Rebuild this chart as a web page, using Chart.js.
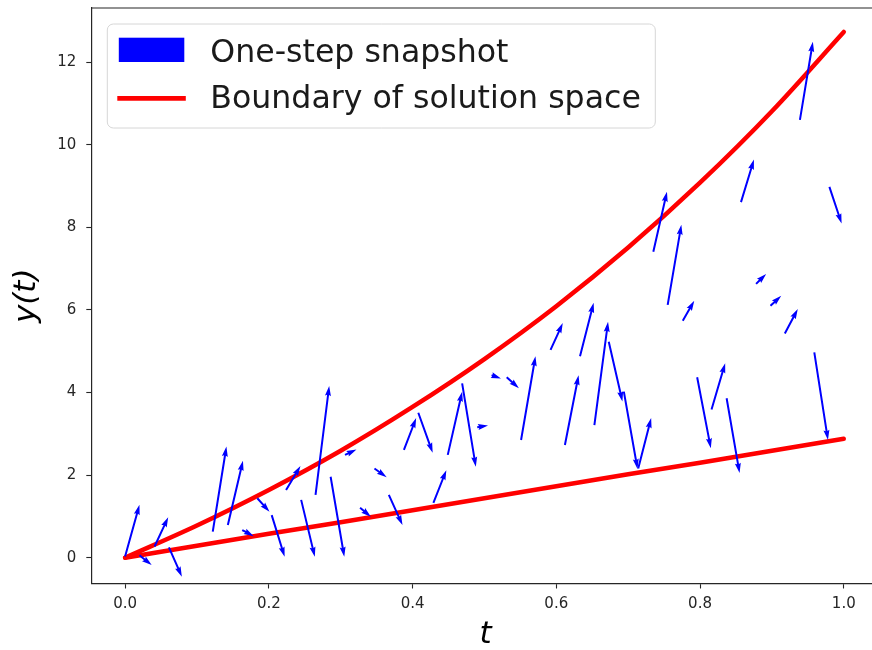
<!DOCTYPE html>
<html>
<head>
<meta charset="utf-8">
<title>One-step snapshots</title>
<script src="https://cdn.jsdelivr.net/npm/chart.js@4.4.1/dist/chart.umd.min.js"></script>
<style>
  html, body { margin: 0; padding: 0; background: #fff; overflow: hidden; }
  #wrap { width: 900px; height: 650px; }
</style>
</head>
<body>
<div id="wrap"><canvas id="quiver" width="900" height="650"></canvas></div>
<script>
// boundary curves of the solution space
const curveT = [0, 0.1, 0.2, 0.3, 0.4, 0.5, 0.6, 0.7, 0.8, 0.9, 1.0];
const upperY = [0, 0.78, 1.64, 2.59, 3.65, 4.81, 6.09, 7.51, 9.08, 10.81, 12.73];
const lowerY = [0, 0.29, 0.58, 0.86, 1.15, 1.44, 1.73, 2.02, 2.30, 2.59, 2.88];

// one-step snapshots: arrow from (tailT, tailY) to (headT, headY)
const tailT = [0.000, 0.020, 0.041, 0.061, 0.122, 0.143, 0.163, 0.184, 0.204, 0.224, 0.245,
  0.265, 0.286, 0.306, 0.327, 0.347, 0.367, 0.388, 0.408, 0.429, 0.449, 0.469, 0.490, 0.510,
  0.531, 0.551, 0.592, 0.612, 0.633, 0.653, 0.673, 0.694, 0.714, 0.735, 0.755, 0.776, 0.796,
  0.816, 0.837, 0.857, 0.878, 0.898, 0.918, 0.939, 0.959, 0.980];
const tailY = [0.03, 0.06, 0.27, 0.25, 0.63, 0.79, 0.67, 1.44, 1.03, 1.64, 1.40,
  1.52, 1.96, 2.49, 1.21, 2.16, 1.52, 2.61, 3.51, 1.33, 2.49, 4.22, 3.16, 4.42,
  4.37, 2.85, 5.03, 2.73, 4.88, 3.21, 5.23, 4.02, 2.16, 7.41, 6.12, 5.74, 4.37,
  3.59, 3.86, 8.61, 6.63, 6.10, 5.43, 10.60, 4.97, 8.98];
const headT = [0.020, 0.037, 0.060, 0.079, 0.141, 0.164, 0.179, 0.201, 0.222, 0.244, 0.264,
  0.284, 0.305, 0.322, 0.342, 0.364, 0.386, 0.405, 0.428, 0.447, 0.469, 0.488, 0.505, 0.523,
  0.548, 0.571, 0.609, 0.631, 0.652, 0.672, 0.692, 0.713, 0.732, 0.754, 0.774, 0.792, 0.815,
  0.835, 0.855, 0.875, 0.892, 0.913, 0.936, 0.957, 0.978, 0.997];
const headY = [1.28, -0.18, 0.98, -0.46, 2.69, 2.35, 0.52, 1.11, 0.02, 2.22, 0.02,
  4.16, 0.02, 2.62, 0.99, 1.95, 0.79, 3.38, 2.54, 2.12, 4.02, 2.20, 3.20, 4.34,
  4.10, 4.88, 5.68, 4.42, 6.17, 5.71, 3.78, 2.15, 3.38, 8.86, 8.06, 6.22, 2.65,
  4.71, 2.05, 9.64, 6.87, 6.34, 6.02, 12.49, 2.85, 8.09];

const xTicks = [0, 0.2, 0.4, 0.6, 0.8, 1.0];
const yTicks = [0, 2, 4, 6, 8, 10, 12];
const legendLabels = ["One-step snapshot", "Boundary of solution space"];

const FONT = "'DejaVu Sans', 'Liberation Sans', sans-serif";
const INK = "#262626";
const SHAFT = 2; // quiver shaft width, px

function curve(ys) {
  return curveT.map((t, i) => ({ x: t, y: ys[i] }));
}

const datasets = [
  { label: legendLabels[1], data: curve(upperY) },
  { label: legendLabels[1], data: curve(lowerY) }
].map(d => Object.assign(d, {
  showLine: true,
  borderColor: "#ff0000",
  borderWidth: 4.5,
  borderCapStyle: "round",
  borderJoinStyle: "round",
  pointRadius: 0,
  cubicInterpolationMode: "monotone",
  fill: false
}));

tailT.forEach((t, i) => {
  datasets.push({
    label: legendLabels[0],
    quiver: true,
    data: [{ x: t, y: tailY[i] }, { x: headT[i], y: headY[i] }],
    showLine: false,
    pointRadius: 0,
    pointHoverRadius: 0
  });
});

// matplotlib-like quiver arrow polygon
function drawArrow(ctx, x0, y0, x1, y1, w) {
  const len = Math.hypot(x1 - x0, y1 - y0);
  if (len < 0.5) return;
  const hl = 5 * w, hal = 4.5 * w, hw = 1.5 * w, sw = 0.5 * w;
  let pts;
  if (len >= hl) {
    pts = [[0, -sw], [len - hal, -sw], [len - hl, -hw], [len, 0],
           [len - hl, hw], [len - hal, sw], [0, sw]];
  } else {
    const k = len / hl;
    pts = [[0, -sw * k], [(hl - hal) * k, -sw * k], [0, -hw * k], [len, 0],
           [0, hw * k], [(hl - hal) * k, sw * k], [0, sw * k]];
  }
  const a = Math.atan2(y1 - y0, x1 - x0);
  const c = Math.cos(a), s = Math.sin(a);
  ctx.beginPath();
  pts.forEach(([px, py], j) => {
    const X = x0 + px * c - py * s;
    const Y = y0 + px * s + py * c;
    if (j === 0) ctx.moveTo(X, Y); else ctx.lineTo(X, Y);
  });
  ctx.closePath();
  ctx.fill();
}

const quiverPlugin = {
  id: "quiver",
  afterDatasetsDraw(chart) {
    const { ctx, chartArea: ca } = chart;
    ctx.save();
    ctx.beginPath();
    ctx.rect(ca.left, ca.top, ca.right - ca.left, ca.bottom - ca.top);
    ctx.clip();
    ctx.fillStyle = "#0000ff";
    chart.data.datasets.forEach((ds, i) => {
      if (!ds.quiver) return;
      const pts = chart.getDatasetMeta(i).data;
      drawArrow(ctx, pts[0].x, pts[0].y, pts[1].x, pts[1].y, SHAFT);
    });
    ctx.restore();
  }
};

// top spine plus the framed legend
const framePlugin = {
  id: "frame",
  afterDraw(chart) {
    const { ctx, chartArea: ca } = chart;
    ctx.save();
    ctx.strokeStyle = INK;
    ctx.lineWidth = 1.2;
    ctx.beginPath();
    ctx.moveTo(ca.left, ca.top);
    ctx.lineTo(ca.right, ca.top);
    ctx.stroke();

    const bx = ca.left + 16, by = ca.top + 16, bw = 548, bh = 104;
    ctx.beginPath();
    ctx.roundRect(bx, by, bw, bh, 6);
    ctx.fillStyle = "rgba(255,255,255,0.8)";
    ctx.fill();
    ctx.strokeStyle = "#d6d6d6";
    ctx.lineWidth = 1;
    ctx.stroke();

    ctx.fillStyle = "#0000ff";
    ctx.fillRect(bx + 11.5, by + 13.7, 65.5, 24.3);
    ctx.strokeStyle = "#ff0000";
    ctx.lineWidth = 4.7;
    ctx.beginPath();
    ctx.moveTo(bx + 10, by + 74.3);
    ctx.lineTo(bx + 78.5, by + 74.3);
    ctx.stroke();

    ctx.fillStyle = "#1a1a1a";
    ctx.font = "31.6px " + FONT;
    ctx.textBaseline = "alphabetic";
    ctx.fillText(legendLabels[0], bx + 103, by + 37.7);
    ctx.fillText(legendLabels[1], bx + 103, by + 84.3);
    ctx.restore();
  }
};

// fixed axis boxes, no extra room reserved for end labels
function fixBox(size) {
  return s => {
    if (s.isHorizontal()) s.height = size; else s.width = size;
    s.paddingTop = s.paddingBottom = s.paddingLeft = s.paddingRight = 0;
  };
}

new Chart(document.getElementById("quiver"), {
  type: "scatter",
  data: { datasets },
  plugins: [quiverPlugin, framePlugin],
  options: {
    responsive: false,
    animation: false,
    events: [],
    // plot area runs past the right edge of the window
    layout: { autoPadding: false, padding: { left: 0, top: 8, right: 20.3, bottom: 0 } },
    plugins: { legend: { display: false }, tooltip: { enabled: false } },
    scales: {
      x: {
        type: "linear",
        min: -0.047,
        max: 1.05,
        afterBuildTicks: s => { s.ticks = xTicks.map(v => ({ value: v })); },
        afterFit: fixBox(66.5),
        ticks: {
          callback: v => v.toFixed(1),
          font: { family: FONT, size: 15 },
          color: INK,
          padding: 7,
          maxRotation: 0,
          autoSkip: false
        },
        grid: { drawOnChartArea: false, tickLength: 5, color: INK, tickWidth: 1.1 },
        border: { display: true, color: INK, width: 1.2 },
        title: {
          display: true,
          text: "t",
          color: "#000",
          font: { family: FONT, size: 31, style: "italic", lineHeight: 1 },
          padding: { top: 0, bottom: 0 }
        }
      },
      y: {
        type: "linear",
        min: -0.625,
        max: 13.31,
        afterBuildTicks: s => { s.ticks = yTicks.map(v => ({ value: v })); },
        afterFit: fixBox(91.3),
        ticks: {
          font: { family: FONT, size: 15 },
          color: INK,
          padding: 10
        },
        grid: { drawOnChartArea: false, tickLength: 5, color: INK, tickWidth: 1.1 },
        border: { display: true, color: INK, width: 1.2 },
        title: {
          display: true,
          text: "y(t)",
          color: "#000",
          font: { family: FONT, size: 31, style: "italic", lineHeight: 1 },
          padding: { top: 11, bottom: 0 }
        }
      }
    }
  }
});
</script>
</body>
</html>
